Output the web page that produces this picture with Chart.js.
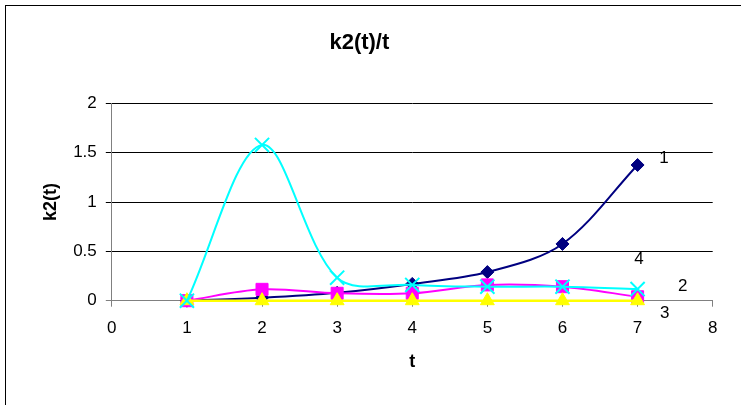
<!DOCTYPE html>
<html>
<head>
<meta charset="utf-8">
<script src="https://cdn.jsdelivr.net/npm/chart.js@4/dist/chart.umd.min.js"></script>
<style>
    html, body { margin: 0; padding: 0; background: #fff; overflow: hidden; }
    #frame {
        position: absolute;
        left: 5px;
        top: 5px;
        width: 760px;
        height: 440px;
        border: 1px solid #000;
        background: #fff;
    }
    #chart { display: block; }
</style>
</head>
<body>
<div id="frame">
    <canvas id="chart" width="745" height="420"></canvas>
</div>
<script>
// t values (x axis) and the four k2(t) series
const tValues = [1, 2, 3, 4, 5, 6, 7];
const series1 = [0, 0.03, 0.08, 0.17, 0.29, 0.575, 1.375];
const series2 = [0, 0.115, 0.075, 0.075, 0.16, 0.142, 0.04];
const series3 = [0, 0, 0, 0, 0, 0, 0];
const series4 = [0, 1.578, 0.233, 0.16, 0.142, 0.142, 0.118];

// axis ticks
const xTicks = [0, 1, 2, 3, 4, 5, 6, 7, 8];
const yTicks = [0, 0.5, 1, 1.5, 2];

// series number labels drawn at the right end of the lines (data units)
const seriesLabels = ['1', '4', '2', '3'];
const seriesLabelX = [7.35, 7.02, 7.6, 7.36];
const seriesLabelY = [1.446, 0.42, 0.146, -0.128];

const FONT = '"Liberation Sans", Arial, sans-serif';

const toPoints = values => values.map((v, i) => ({ x: tValues[i], y: v }));

// draws the plain "1".."4" labels next to the curves
const seriesLabelPlugin = {
    id: 'seriesLabels',
    afterDatasetsDraw(chart) {
        const { ctx, scales } = chart;
        ctx.save();
        ctx.font = '17px ' + FONT;
        ctx.fillStyle = '#000';
        ctx.textAlign = 'center';
        ctx.textBaseline = 'middle';
        seriesLabels.forEach((txt, i) => {
            const px = scales.x.getPixelForValue(seriesLabelX[i]);
            const py = scales.y.getPixelForValue(seriesLabelY[i]);
            ctx.fillText(txt, px, py);
        });
        ctx.restore();
    }
};

const lineSet = (label, values, color, style, radius, width, order) => ({
    label: label,
    data: toPoints(values),
    borderColor: color,
    backgroundColor: color,
    borderWidth: width,
    pointStyle: style,
    pointRadius: radius,
    pointHoverRadius: radius,
    pointBorderWidth: style === 'crossRot' ? 2 : 1,
    pointBorderColor: color,
    pointBackgroundColor: color,
    tension: 0.33,
    clip: false,
    order: order
});

new Chart(document.getElementById('chart'), {
    type: 'line',
    data: {
        datasets: [
            lineSet('1', series1, '#000080', 'rectRot', 6.5, 2, 4),
            lineSet('2', series2, '#FF00FF', 'rect', 8.5, 2, 3),
            lineSet('3', series3, '#FFFF00', 'triangle', 8, 2.5, 2),
            lineSet('4', series4, '#00FFFF', 'crossRot', 10, 2, 1)
        ]
    },
    options: {
        responsive: false,
        animation: false,
        events: [],
        layout: { padding: { left: 0, right: 38.3, top: 0, bottom: 0 } },
        plugins: {
            legend: { display: false },
            tooltip: { enabled: false },
            title: {
                display: true,
                text: 'k2(t)/t',
                color: '#000',
                font: { family: FONT, size: 22, weight: 'bold' },
                padding: { top: 23.8, bottom: 47.1 }
            }
        },
        scales: {
            x: {
                type: 'linear',
                min: 0,
                max: 8,
                afterBuildTicks: scale => { scale.ticks = xTicks.map(v => ({ value: v })); },
                afterFit: scale => { scale.height = 125.3; },
                ticks: {
                    color: '#000',
                    font: { family: FONT, size: 17 },
                    padding: 11,
                    maxRotation: 0,
                    callback: value => String(value)
                },
                grid: {
                    drawOnChartArea: false,
                    drawTicks: true,
                    tickLength: 6,
                    color: '#808080'
                },
                border: { color: '#808080', width: 1 },
                title: {
                    display: true,
                    text: 't',
                    color: '#000',
                    font: { family: FONT, size: 18, weight: 'bold' },
                    padding: { top: 0, bottom: 53.5 }
                }
            },
            y: {
                type: 'linear',
                min: 0,
                max: 2,
                afterBuildTicks: scale => { scale.ticks = yTicks.map(v => ({ value: v })); },
                afterFit: scale => { scale.width = 105.8; },
                ticks: {
                    color: '#000',
                    font: { family: FONT, size: 17 },
                    padding: 9,
                    callback: value => String(value)
                },
                grid: {
                    tickLength: 6,
                    color: ctx => (ctx.tick && ctx.tick.value === 0 ? '#808080' : '#000'),
                    lineWidth: 1
                },
                border: { color: '#808080', width: 1 },
                title: {
                    display: true,
                    text: 'k2(t)',
                    color: '#000',
                    font: { family: FONT, size: 18, weight: 'bold' },
                    padding: { top: 34.7, bottom: 0 }
                }
            }
        }
    },
    plugins: [seriesLabelPlugin]
});
</script>
</body>
</html>
